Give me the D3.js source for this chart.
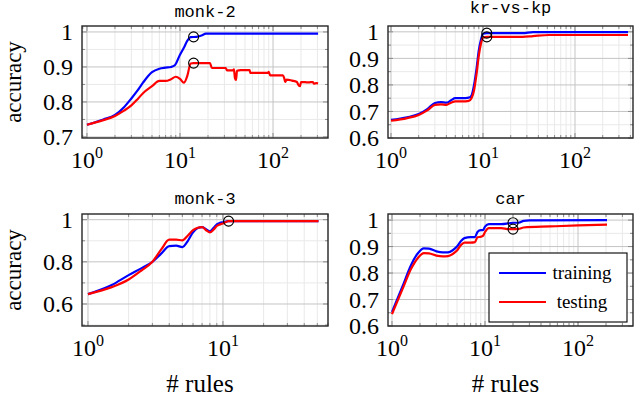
<!DOCTYPE html>
<html>
<head>
<meta charset="utf-8">
<script src="https://cdn.jsdelivr.net/npm/d3@7"></script>
<style>
  body { margin: 0; background: #fff; }
  svg { display: block; }
  .tick-label { font-family: "Liberation Serif", serif; font-size: 24px; fill: #000; }
  .axis-title { font-family: "Liberation Serif", serif; font-size: 25px; fill: #000; }
  .y-title { font-family: "Liberation Serif", serif; font-size: 23px; fill: #000; }
  .panel-title { font-family: "Liberation Mono", monospace; font-size: 17px; fill: #000; }
  .legend-text { font-family: "Liberation Serif", serif; font-size: 19px; fill: #000; }
</style>
</head>
<body>
<div id="chart"></div>
<script>
// setting up constants
const FRAME_WIDTH = 636;
const FRAME_HEIGHT = 398;

// series names + colours
const SERIES = ["training", "testing"];
const COLORS = ["#0000ff", "#ff0000"];

// monk-2  [# rules, accuracy]
const MONK2_TRAIN = [[1,0.735],[1.5,0.75],[2,0.763],[2.5,0.785],[3,0.81],[3.5,0.833],[4,0.855],[5,0.885],[6,0.895],[7,0.898],[8,0.9],[8.8,0.905],[10,0.935],[11,0.955],[12,0.975],[13,0.985],[15,0.986],[17,0.99],[19,0.995],[50,0.995],[100,0.995],[305,0.995]];
const MONK2_TEST = [[1,0.735],[1.5,0.748],[2,0.76],[2.5,0.775],[3,0.79],[3.5,0.808],[4,0.825],[5,0.845],[6,0.86],[7,0.86],[8,0.865],[9,0.872],[10,0.866],[11,0.855],[12,0.875],[13,0.91],[14,0.911],[21,0.911],[22,0.897],[31,0.897],[32,0.89],[37,0.89],[38,0.893],[39,0.868],[40,0.863],[41,0.889],[45,0.891],[56,0.891],[57,0.883],[88,0.883],[90,0.886],[93,0.876],[128,0.876],[132,0.868],[135,0.857],[140,0.864],[160,0.861],[181,0.857],[186,0.85],[195,0.845],[200,0.857],[240,0.856],[269,0.857],[275,0.852],[290,0.854],[305,0.853]];
const MONK2_SEL = [[14,0.986],[14,0.911]];

// kr-vs-kp
const KRKP_TRAIN = [[1,0.668],[1.5,0.678],[2,0.69],[2.5,0.71],[3,0.732],[3.5,0.735],[4,0.733],[4.5,0.742],[5,0.75],[6,0.75],[7,0.752],[7.5,0.76],[8,0.8],[8.5,0.86],[9,0.93],[9.5,0.97],[10,0.993],[11,0.995],[27,0.995],[35,0.999],[377,0.999]];
const KRKP_TEST = [[1,0.665],[1.5,0.675],[2,0.687],[2.5,0.705],[3,0.725],[3.5,0.727],[4,0.725],[4.5,0.733],[5,0.738],[6,0.738],[7,0.74],[7.5,0.75],[8,0.78],[8.5,0.84],[9,0.91],[9.5,0.955],[10,0.978],[11,0.981],[27,0.981],[35,0.984],[52,0.988],[377,0.988]];
const KRKP_SEL = [[11,0.995],[11,0.981]];

// monk-3
const MONK3_TRAIN = [[1,0.647],[1.5,0.69],[2,0.737],[2.5,0.77],[3,0.8],[3.5,0.84],[4,0.875],[4.5,0.877],[5,0.87],[5.5,0.9],[6,0.94],[6.5,0.96],[7,0.965],[7.5,0.955],[8,0.945],[8.5,0.96],[9,0.978],[9.5,0.985],[10,0.988],[11,0.993],[51,0.993]];
const MONK3_TEST = [[1,0.647],[1.5,0.68],[2,0.716],[2.5,0.76],[3,0.8],[3.5,0.86],[4,0.905],[4.5,0.905],[5,0.902],[5.5,0.925],[6,0.95],[6.5,0.962],[7,0.965],[7.5,0.95],[8,0.94],[8.5,0.952],[9,0.97],[10,0.982],[11,0.993],[51,0.993]];
const MONK3_SEL = [[11,0.993]];

// car
const CAR_TRAIN = [[1,0.653],[1.3,0.75],[1.6,0.83],[1.9,0.875],[2.2,0.893],[2.5,0.892],[3,0.882],[3.5,0.878],[4,0.878],[4.5,0.886],[5,0.9],[5.5,0.92],[6,0.932],[7,0.936],[7.8,0.936],[8.3,0.955],[9,0.962],[9.5,0.962],[10,0.975],[11,0.985],[15,0.985],[18,0.988],[20,0.99],[23,0.99],[26,0.997],[30,0.999],[205,1.0]];
const CAR_TEST = [[1,0.645],[1.3,0.74],[1.6,0.815],[1.9,0.857],[2.2,0.875],[2.5,0.874],[3,0.866],[3.5,0.863],[4,0.864],[4.5,0.872],[5,0.885],[5.5,0.905],[6,0.915],[7,0.915],[7.8,0.917],[8.3,0.935],[9,0.937],[9.5,0.94],[10,0.955],[11,0.97],[15,0.97],[18,0.966],[20,0.966],[23,0.967],[26,0.972],[50,0.976],[100,0.98],[205,0.983]];
const CAR_SEL = [[20,0.99],[20,0.966]];

// tick values
const Y_TICKS_A = [0.7, 0.8, 0.9, 1];
const Y_TICKS_B = [0.6, 0.7, 0.8, 0.9, 1];
const Y_TICKS_C = [0.6, 0.8, 1];

// panel layout (pixel boxes) and axis limits
const PANELS = [
    {title: "monk-2", titleY: 17, box: [82, 26, 328, 138], xDom: [0.884, 390], yDom: [0.697, 1.017],
     yTicks: Y_TICKS_A, yStep: 0.05, series: [MONK2_TRAIN, MONK2_TEST], sel: MONK2_SEL, yLabel: true},
    {title: "kr-vs-kp", titleY: 13, box: [388, 26, 633, 138], xDom: [0.928, 427], yDom: [0.6, 1.022],
     yTicks: Y_TICKS_B, yStep: 0.05, series: [KRKP_TRAIN, KRKP_TEST], sel: KRKP_SEL},
    {title: "monk-3", titleY: 204, box: [82, 214, 328, 326], xDom: [0.903, 60], yDom: [0.4956, 1.027],
     yTicks: Y_TICKS_C, yStep: 0.1, series: [MONK3_TRAIN, MONK3_TEST], sel: MONK3_SEL, yLabel: true, xLabel: true},
    {title: "car", titleY: 204, box: [388, 214, 633, 326], xDom: [0.906, 390], yDom: [0.6, 1.023],
     yTicks: Y_TICKS_B, yStep: 0.05, series: [CAR_TRAIN, CAR_TEST], sel: CAR_SEL, xLabel: true, legend: true}
];

const FRAME =
    d3.select('#chart')
        .append('svg')
            .attr('width', FRAME_WIDTH)
            .attr('height', FRAME_HEIGHT);

PANELS.forEach(function(p, i) {
    const [x0, y0, x1, y1] = p.box;
    const xScale = d3.scaleLog().domain(p.xDom).range([x0, x1]);
    const yScale = d3.scaleLinear().domain(p.yDom).range([y1, y0]);
    const g = FRAME.append('g');

    // clip for the lines
    g.append('clipPath').attr('id', 'clip' + i)
        .append('rect').attr('x', x0).attr('y', y0).attr('width', x1 - x0).attr('height', y1 - y0);

    // minor + major x positions (log)
    const xMinor = [], xMajor = [];
    for (let e = -1; e <= 3; e++) {
        for (let m = 1; m <= 9; m++) {
            const v = m * Math.pow(10, e);
            if (v < p.xDom[0] || v > p.xDom[1]) continue;
            if (m === 1) xMajor.push(v); else xMinor.push(v);
        }
    }
    const yMinor = [];
    for (let v = Math.ceil(p.yDom[0] / p.yStep) * p.yStep; v <= p.yDom[1]; v += p.yStep) {
        const r = Math.round(v * 1000) / 1000;
        if (!p.yTicks.some(t => Math.abs(t - r) < 1e-6)) yMinor.push(r);
    }

    // grid lines
    g.selectAll('.xminor').data(xMinor).enter().append('line')
        .attr('x1', d => xScale(d)).attr('x2', d => xScale(d)).attr('y1', y0).attr('y2', y1)
        .attr('stroke', '#e9e9e9').attr('stroke-width', 1);
    g.selectAll('.yminor').data(yMinor).enter().append('line')
        .attr('x1', x0).attr('x2', x1).attr('y1', d => yScale(d)).attr('y2', d => yScale(d))
        .attr('stroke', '#e9e9e9').attr('stroke-width', 1);
    g.selectAll('.xmajor').data(xMajor).enter().append('line')
        .attr('x1', d => xScale(d)).attr('x2', d => xScale(d)).attr('y1', y0).attr('y2', y1)
        .attr('stroke', '#c4c4c4').attr('stroke-width', 1);
    g.selectAll('.ymajor').data(p.yTicks).enter().append('line')
        .attr('x1', x0).attr('x2', x1).attr('y1', d => yScale(d)).attr('y2', d => yScale(d))
        .attr('stroke', '#c4c4c4').attr('stroke-width', 1);

    // tick marks inside on all four sides
    const tickCol = '#8a8a8a';
    [[xMinor, 3], [xMajor, 5]].forEach(function([arr, len]) {
        arr.forEach(function(v) {
            const x = xScale(v);
            g.append('line').attr('x1', x).attr('x2', x).attr('y1', y1).attr('y2', y1 - len).attr('stroke', tickCol);
            g.append('line').attr('x1', x).attr('x2', x).attr('y1', y0).attr('y2', y0 + len).attr('stroke', tickCol);
        });
    });
    [[yMinor, 3], [p.yTicks, 5]].forEach(function([arr, len]) {
        arr.forEach(function(v) {
            const y = yScale(v);
            g.append('line').attr('x1', x0).attr('x2', x0 + len).attr('y1', y).attr('y2', y).attr('stroke', tickCol);
            g.append('line').attr('x1', x1).attr('x2', x1 - len).attr('y1', y).attr('y2', y).attr('stroke', tickCol);
        });
    });

    // lines
    const line = d3.line()
        .x(d => xScale(d[0]))
        .y(d => yScale(d[1]))
        .curve(d3.curveMonotoneX);
    p.series.forEach(function(s, k) {
        g.append('path')
            .datum(s)
            .attr('clip-path', 'url(#clip' + i + ')')
            .attr('d', line)
            .attr('fill', 'none')
            .attr('stroke', COLORS[k])
            .attr('stroke-width', 2.2)
            .attr('stroke-linejoin', 'round');
    });

    // selected points
    g.selectAll('.sel').data(p.sel).enter().append('circle')
        .attr('cx', d => xScale(d[0]))
        .attr('cy', d => yScale(d[1]))
        .attr('r', 5)
        .attr('fill', 'none')
        .attr('stroke', '#000')
        .attr('stroke-width', 1.1);

    // frame
    g.append('rect')
        .attr('x', x0).attr('y', y0).attr('width', x1 - x0).attr('height', y1 - y0)
        .attr('fill', 'none').attr('stroke', '#262626').attr('stroke-width', 1.4);

    // y tick labels
    g.selectAll('.ylab').data(p.yTicks).enter().append('text')
        .attr('class', 'tick-label')
        .attr('x', x0 - 9)
        .attr('y', d => yScale(d))
        .attr('dy', '0.34em')
        .attr('text-anchor', 'end')
        .text(d => String(d));

    // x tick labels 10^k
    xMajor.forEach(function(v) {
        const t = g.append('text')
            .attr('class', 'tick-label')
            .attr('x', xScale(v))
            .attr('y', y1 + 30)
            .attr('text-anchor', 'middle');
        t.append('tspan').text('10');
        t.append('tspan').attr('dy', -10).attr('font-size', 16).text(String(Math.round(Math.log10(v))));
    });

    // title
    g.append('text')
        .attr('class', 'panel-title')
        .attr('x', (x0 + x1) / 2)
        .attr('y', p.titleY)
        .attr('text-anchor', 'middle')
        .text(p.title);

    if (p.yLabel) {
        g.append('text')
            .attr('class', 'y-title')
            .attr('transform', 'translate(21,' + ((y0 + y1) / 2) + ') rotate(-90)')
            .attr('text-anchor', 'middle')
            .text('accuracy');
    }
    if (p.xLabel) {
        g.append('text')
            .attr('class', 'axis-title')
            .attr('x', (x0 + x1) / 2 - 5)
            .attr('y', 392)
            .attr('text-anchor', 'middle')
            .text('# rules');
    }

    // legend
    if (p.legend) {
        const lg = g.append('g');
        lg.append('rect')
            .attr('x', 489).attr('y', 253).attr('width', 138).attr('height', 69)
            .attr('fill', '#fff').attr('stroke', '#000').attr('stroke-width', 1.1);
        SERIES.forEach(function(name, k) {
            const y = 273 + k * 29;
            lg.append('line')
                .attr('x1', 499).attr('x2', 546).attr('y1', y).attr('y2', y)
                .attr('stroke', COLORS[k]).attr('stroke-width', 2.2);
            lg.append('text')
                .attr('class', 'legend-text')
                .attr('x', 582).attr('y', y + 6)
                .attr('text-anchor', 'middle')
                .text(name);
        });
    }
});
</script>
</body>
</html>
